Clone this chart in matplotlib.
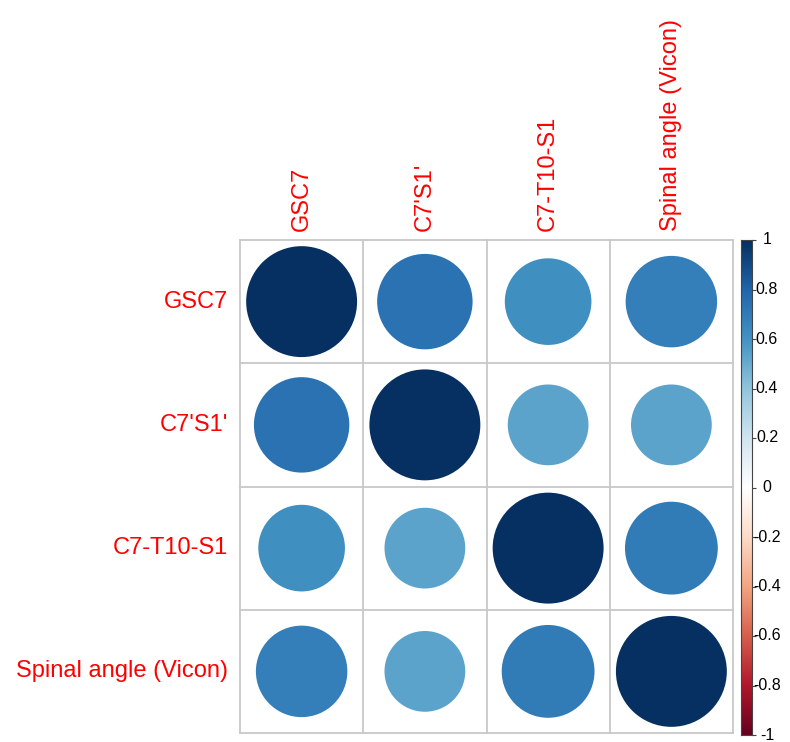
import numpy as np
import matplotlib
matplotlib.use("Agg")
import matplotlib.pyplot as plt
from matplotlib.colors import LinearSegmentedColormap
from matplotlib.patches import Circle

labels = ["GSC7", "C7'S1'", "C7-T10-S1", "Spinal angle (Vicon)"]
corr = np.array([
    [1.00, 0.74, 0.61, 0.68],
    [0.74, 1.00, 0.53, 0.53],
    [0.61, 0.53, 1.00, 0.70],
    [0.68, 0.53, 0.70, 1.00],
])
cbar_ticks = [1, 0.8, 0.6, 0.4, 0.2, 0, -0.2, -0.4, -0.6, -0.8, -1]

palette = ["#67001F", "#B2182B", "#D6604D", "#F4A582", "#FDDBC7", "#FFFFFF",
           "#D1E5F0", "#92C5DE", "#4393C3", "#2166AC", "#053061"]
cmap = LinearSegmentedColormap.from_list("corrRdBu", palette, N=200)

plt.rcParams['font.family'] = ['Liberation Sans', 'DejaVu Sans']
W, H = 790, 742
fig = plt.figure(figsize=(W / 100, H / 100), dpi=100)

x0, x1, y0, y1 = 240, 733, 240, 733
ax = fig.add_axes([x0 / W, 1 - y1 / H, (x1 - x0) / W, (y1 - y0) / H])
n = len(labels)
ax.set_xlim(0.5, n + 0.5)
ax.set_ylim(n + 0.5, 0.5)
ax.axis('off')

grid_col = "#C8C8C8"
for k in range(n + 1):
    ax.plot([0.5 + k, 0.5 + k], [0.5, n + 0.5], color=grid_col, lw=1.3, zorder=1, clip_on=False)
    ax.plot([0.5, n + 0.5], [0.5 + k, 0.5 + k], color=grid_col, lw=1.3, zorder=1, clip_on=False)

for i in range(n):
    for j in range(n):
        r = corr[i, j]
        rad = 0.45 * np.sqrt(abs(r))
        col = cmap((r + 1) / 2)
        ax.add_patch(Circle((j + 1, i + 1), rad, facecolor=col, edgecolor='none', zorder=2))

red = "#FF0000"
for i, lab in enumerate(labels):
    fig.text((x0 - 12) / W, 1 - (y0 + (i + 0.5) * (x1 - x0) / n) / H, lab,
             ha='right', va='center', color=red, fontsize=17)
    fig.text((x0 + (i + 0.5) * (x1 - x0) / n) / W, 1 - (y0 - 9) / H, lab,
             ha='center', va='bottom', rotation=90, color=red, fontsize=17)

# colorbar
cb_x0, cb_x1, cb_y0, cb_y1 = 741, 752, 240, 735
cax = fig.add_axes([cb_x0 / W, 1 - cb_y1 / H, (cb_x1 - cb_x0) / W, (cb_y1 - cb_y0) / H])
grad = np.linspace(1, -1, 200).reshape(-1, 1)
cax.imshow(grad, aspect='auto', cmap=cmap, vmin=-1, vmax=1, extent=[0, 1, -1, 1])
cax.set_xlim(0, 1)
cax.set_ylim(-1, 1)
cax.set_xticks([])
cax.yaxis.tick_right()
cax.set_yticks(cbar_ticks)
cax.set_yticklabels([])
cax.tick_params(axis='y', length=3, width=0.8, color='#444444')
for s in cax.spines.values():
    s.set_color('#444444')
    s.set_linewidth(0.8)
for t in cbar_ticks:
    yy = cb_y1 - (t + 1) / 2 * (cb_y1 - cb_y0)
    fig.text(767 / W, 1 - yy / H, f"{t:g}", ha='center', va='center', fontsize=11.5, color='black')

fig.savefig("out.png", dpi=100, facecolor='white')
